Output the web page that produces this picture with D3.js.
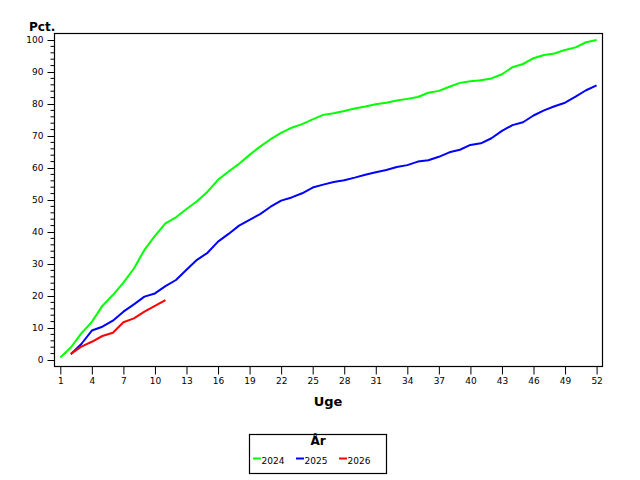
<!DOCTYPE html>
<html><head><meta charset="utf-8">
<script src="https://cdn.jsdelivr.net/npm/d3@7"></script>
<style>body{margin:0;background:#fff}svg{display:block}</style>
</head><body>
<script>
const weeks = d3.range(1, 53);
const xTicks = [1,4,7,10,13,16,19,22,25,28,31,34,37,40,43,46,49,52];
const yTicks = [0,10,20,30,40,50,60,70,80,90,100];
const years = ["2024","2025","2026"];
const colors = ["#00ff00","#0000ff","#ff0000"];
const startWeek = [1, 2, 2];
const v2024 = [0.8,3.9,8.3,11.9,16.9,20.3,24.2,28.6,34.4,38.8,42.7,44.6,47.2,49.6,52.6,56.3,58.9,61.3,64.1,66.7,69.0,71.0,72.6,73.7,75.2,76.6,77.1,77.8,78.6,79.2,79.9,80.4,81.1,81.6,82.2,83.5,84.1,85.4,86.6,87.1,87.4,88.0,89.3,91.5,92.5,94.3,95.3,95.8,96.9,97.7,99.3,100.0];
const v2025 = [1.8,5.0,9.2,10.4,12.3,15.1,17.4,19.8,20.8,23.1,25.0,28.2,31.3,33.5,37.0,39.4,42.0,43.8,45.6,47.9,49.8,50.8,52.1,53.9,54.8,55.6,56.2,57.0,57.9,58.7,59.4,60.3,60.9,62.0,62.4,63.5,64.9,65.7,67.2,67.7,69.3,71.6,73.4,74.3,76.4,78.0,79.3,80.4,82.3,84.3,85.8];
const v2026 = [1.9,4.2,5.7,7.5,8.5,11.8,13.0,15.1,16.9,18.7];
const series = [v2024, v2025, v2026];

const W = 640, H = 480;
const frame = {l:54, t:33, r:602, b:366};
const svg = d3.select("body").append("svg").attr("width", W).attr("height", H);
const x = d3.scaleLinear().domain([1,52]).range([60.3, 596.6]);
const y = d3.scaleLinear().domain([0,100]).range([360, 40]);
const font = "DejaVu Sans, Arial, sans-serif";

// frame
svg.append("rect").attr("x", frame.l+0.5).attr("y", frame.t+0.5)
  .attr("width", frame.r-frame.l).attr("height", frame.b-frame.t)
  .attr("fill","none").attr("stroke","#000").attr("stroke-width",1.2);

// y axis
const yAx = svg.append("g").attr("transform", `translate(${frame.l+0.5},0)`)
  .call(d3.axisLeft(y).tickValues(yTicks).tickSize(7).tickPadding(4));
yAx.append("g").selectAll("line").data(d3.range(0,101,2).filter(d=>d%10)).join("line")
  .attr("x1",-4).attr("x2",0).attr("y1",d=>y(d)).attr("y2",d=>y(d)).attr("stroke","#000");
// x axis
const xAx = svg.append("g").attr("transform", `translate(0,${frame.b+0.5})`)
  .call(d3.axisBottom(x).tickValues(xTicks).tickSize(8).tickPadding(3));
[yAx, xAx].forEach(g=>{
  g.select(".domain").remove();
  g.selectAll("text").attr("font-family", font).attr("font-size", 9).attr("fill","#000");
  g.selectAll("line").attr("stroke","#000");
});

// lines
const line = d3.line().x(d=>x(d[0])).y(d=>y(d[1])).curve(d3.curveLinear);
series.forEach((vals,i)=>{
  const pts = vals.map((v,j)=>[startWeek[i]+j, v]);
  svg.append("path").datum(pts).attr("d", line).attr("fill","none")
    .attr("stroke", colors[i]).attr("stroke-width", 2).attr("stroke-linejoin","round");
});

// titles
svg.append("text").attr("x", 29).attr("y", 31).text("Pct.")
  .attr("font-family", font).attr("font-size", 12).attr("font-weight","bold");
svg.append("text").attr("x", (frame.l+frame.r)/2).attr("y", 406).attr("text-anchor","middle").text("Uge")
  .attr("font-family", font).attr("font-size", 13).attr("font-weight","bold");

// legend
const lg = svg.append("g");
lg.append("rect").attr("x",249.5).attr("y",434.5).attr("width",137).attr("height",39)
  .attr("fill","none").attr("stroke","#000").attr("stroke-width",1.2);
lg.append("text").attr("x",318).attr("y",445).attr("text-anchor","middle").text("År")
  .attr("font-family", font).attr("font-size", 12).attr("font-weight","bold");
const lx = [253, 296, 339];
years.forEach((yr,i)=>{
  lg.append("line").attr("x1",lx[i]).attr("x2",lx[i]+8).attr("y1",458.5).attr("y2",458.5)
    .attr("stroke",colors[i]).attr("stroke-width",2);
  lg.append("text").attr("x",lx[i]+8.5).attr("y",464).text(yr)
    .attr("font-family", font).attr("font-size", 9);
});
</script>
</body></html>
